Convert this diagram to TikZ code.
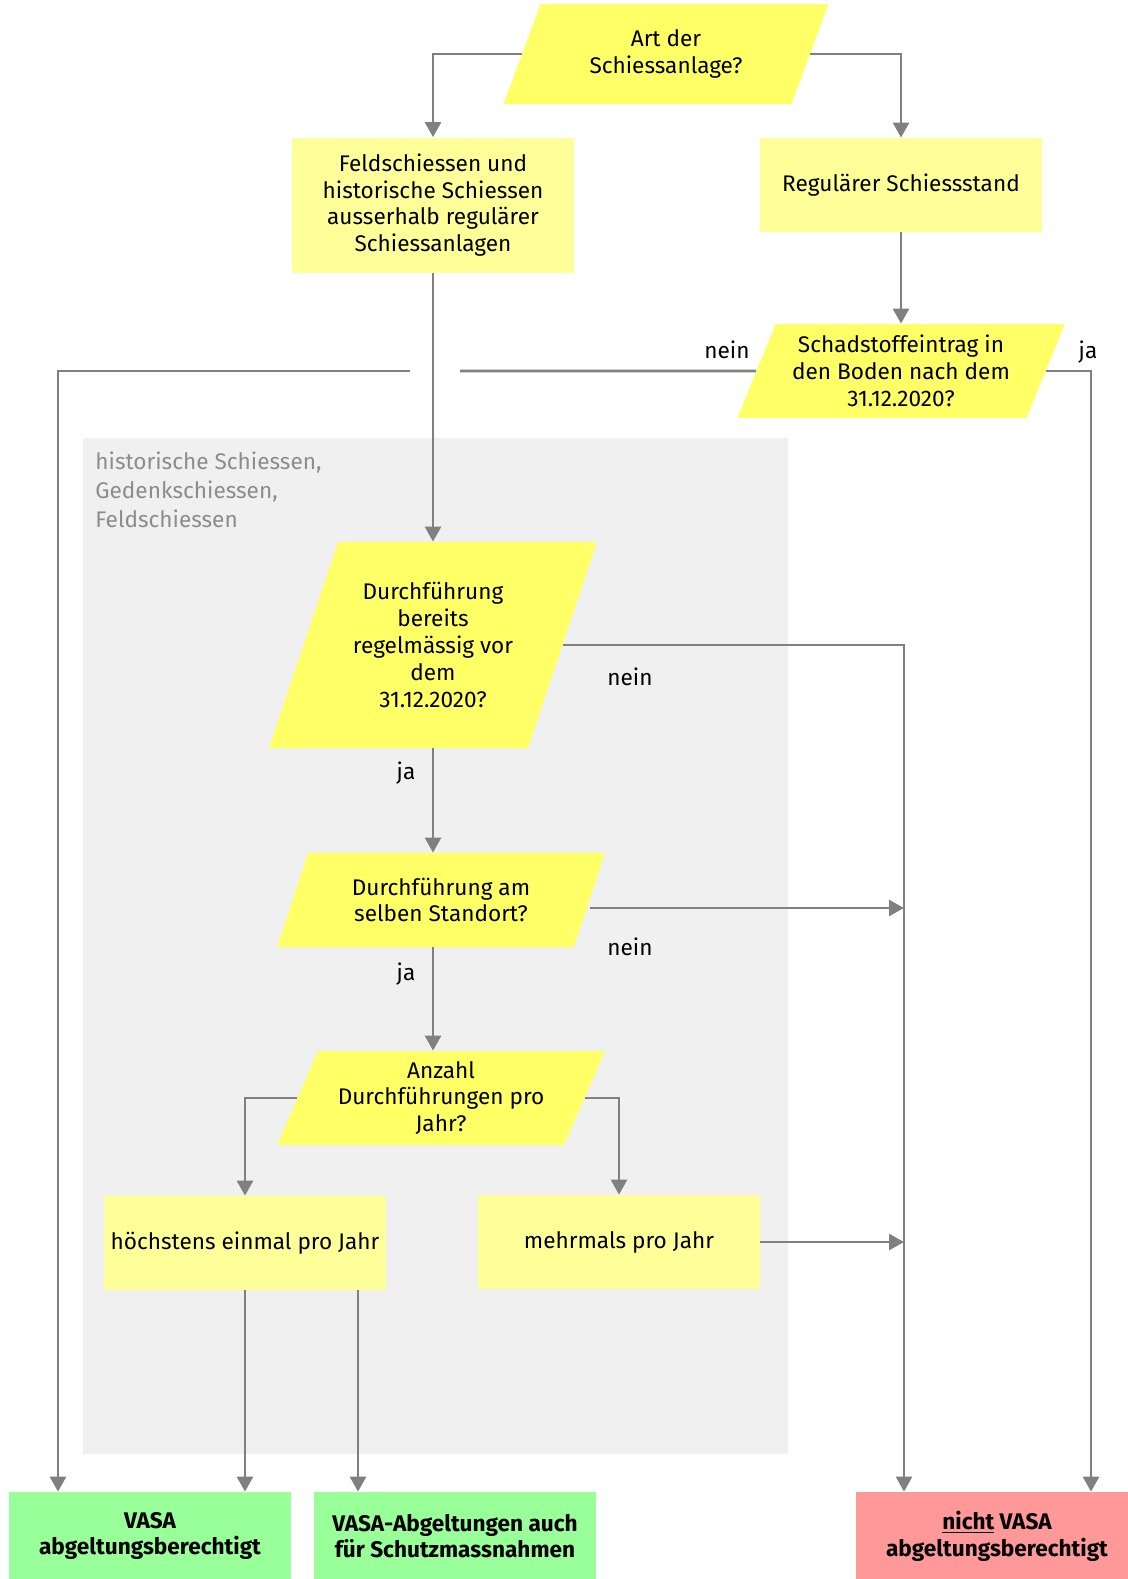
\documentclass[tikz,border=0pt]{standalone}
\usepackage{fontspec}
\setmainfont{Fira Sans}
\usetikzlibrary{shapes.geometric,arrows.meta}
\definecolor{gelb}{HTML}{FFFF66}
\definecolor{hellgelb}{HTML}{FFFF99}
\definecolor{gruen}{HTML}{99FF99}
\definecolor{rot}{HTML}{FF9999}
\definecolor{grau}{HTML}{F0F0F0}
\definecolor{linie}{HTML}{808080}
\definecolor{schrift}{HTML}{8C8C8C}

\begin{document}
\begin{tikzpicture}[x=0.5pt,y=-0.5pt,
  every node/.style={font=\fontsize{11.3}{13.4}\selectfont},
  frage/.style={trapezium,trapezium left angle=65,trapezium right angle=115,
    trapezium stretches=true,fill=gelb,minimum width=164pt,minimum height=47pt,
    inner sep=0pt,align=center},
  kasten/.style={rectangle,fill=hellgelb,minimum width=141pt,minimum height=47pt,
    inner sep=0pt,align=center},
  ende/.style={rectangle,minimum width=141pt,minimum height=44pt,inner sep=0pt,
    align=center,font=\fontsize{11.3}{13.4}\selectfont\bfseries},
  pfeil/.style={draw=linie,line width=1.4pt,-{Triangle[length=7.5pt,width=8pt]}},
  linie/.style={draw=linie,line width=1.4pt}]
\useasboundingbox (0,0) rectangle (1128,1579);
\fill[grau] (83,438) rectangle (788,1454);
\node[anchor=north west,inner sep=0pt,text=schrift,align=left,
  font=\fontsize{11.3}{14.5}\selectfont] (gruppe) at (95,451)
  {historische Schiessen,\\Gedenkschiessen,\\Feldschiessen};

\node[frage,minimum height=50pt] (art) at (666,54) {Art der\\Schiessanlage?};
\node[kasten,minimum height=67.5pt] (feld) at (433,205)
  {Feldschiessen und\\historische Schiessen\\ausserhalb regulärer\\Schiessanlagen};
\node[kasten] (reg) at (901,185) {Regulärer Schiessstand};
\node[frage] (schad) at (901,371) {Schadstoffeintrag in\\den Boden nach dem\\31.12.2020?};
\node[frage,minimum height=103pt] (durchb) at (433,645)
  {Durchführung\\bereits\\regelmässig vor\\dem\\31.12.2020?};
\node[frage] (durcham) at (441,900) {Durchführung am\\selben Standort?};
\node[frage] (anzahl) at (441,1098) {Anzahl\\Durchführungen pro\\Jahr?};
\node[kasten] (hoech) at (245,1243) {höchstens einmal pro Jahr};
\node[kasten] (mehr) at (619,1242) {mehrmals pro Jahr};
\node[ende,fill=gruen] (vasa) at (150,1536) {VASA\\abgeltungsberechtigt};
\node[ende,fill=gruen] (vasaab) at (455,1536) {VASA-Abgeltungen auch\\für Schutzmassnahmen};
\node[ende,fill=rot] (nicht) at (997,1536) {\underline{nicht} VASA\\abgeltungsberechtigt};

\node (nein1) at (727,350) {nein};
\node (ja1) at (1088,352) {ja};
\node (nein2) at (630,677) {nein};
\node (ja2) at (406,773) {ja};
\node (nein3) at (630,947) {nein};
\node (ja3) at (406,974) {ja};

\coordinate (lcol) at (58,0);
\coordinate (mitte) at (433,0);
\coordinate (mcol) at (358,0);
\coordinate (rcol) at (904,0);
\coordinate (fcol) at (1091,0);
\coordinate (hopL) at (410,371);
\coordinate (hopR) at (460,371);

\draw[pfeil] (art.west) -| (feld.north);
\draw[pfeil] (art.east) -| (reg.north);
\draw[pfeil] (reg.south) -- (schad.north -| reg.south);
\draw[linie] (schad.west) -- (hopR);
\draw[pfeil] (hopL) -| (vasa.north -| lcol);
\draw[pfeil] (schad.east) -| (nicht.north -| fcol);
\draw[pfeil] (feld.south) -- (durchb.north -| mitte);
\draw[pfeil] (durchb.east) -| (nicht.north -| rcol);
\draw[pfeil] (durchb.south -| mitte) -- (durcham.north -| mitte);
\draw[pfeil] ([yshift=-4pt]durcham.east) -- ([yshift=-4pt]durcham.east -| rcol);
\draw[pfeil] (durcham.south -| mitte) -- (anzahl.north -| mitte);
\draw[pfeil] (anzahl.west) -| (hoech.north);
\draw[pfeil] (anzahl.east) -| (mehr.north);
\draw[pfeil] (mehr.east) -- (mehr.east -| rcol);
\draw[pfeil] (hoech.south) -- (hoech.south |- vasa.north);
\draw[pfeil] (hoech.south -| mcol) -- (vasaab.north -| mcol);
\end{tikzpicture}
\end{document}
